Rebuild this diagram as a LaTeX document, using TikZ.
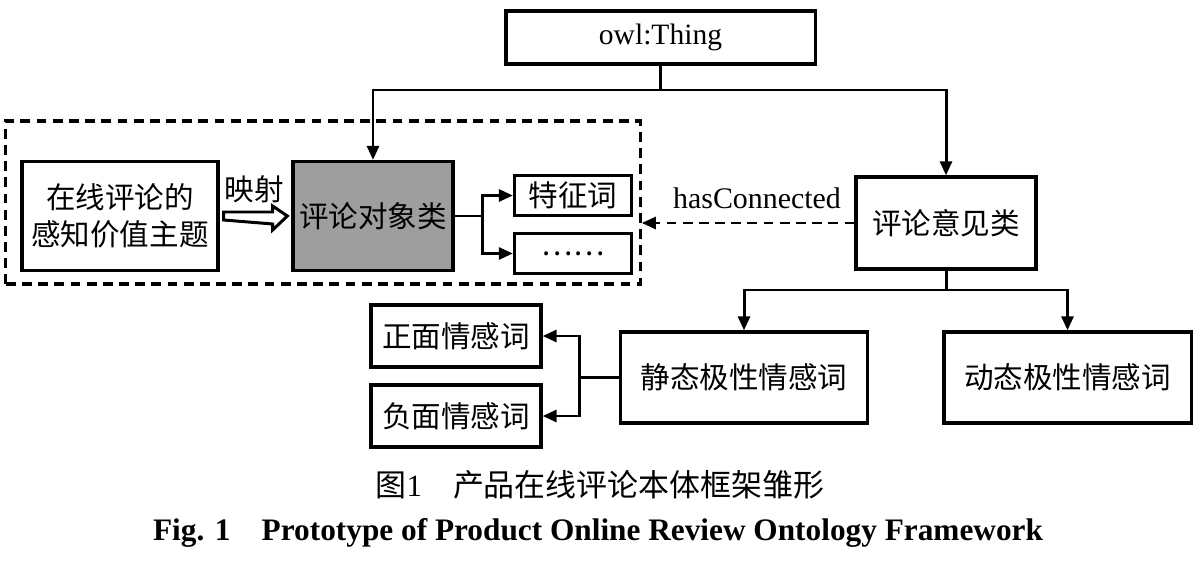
\documentclass[tikz,border=0pt]{standalone}
\usepackage{fontspec}
\setmainfont{Liberation Serif}
\newfontfamily\cjk{Noto Sans CJK SC}
\usetikzlibrary{arrows.meta,calc}
\definecolor{classgray}{RGB}{158,158,158}
\begin{document}
\begin{tikzpicture}[x=0.01cm,y=-0.01cm]
        \tikzstyle{cls}=[draw,line width=0.9pt,inner sep=0pt,align=center,font=\cjk\fontsize{8.4}{10.5}\selectfont]
        \tikzstyle{edge}=[draw,line width=0.85pt]
        \tikzstyle{tip}=[-{Triangle[length=4pt,width=3.4pt]}]
        \useasboundingbox (0,0) rectangle (1200,567);
       \begin{scope}
         \node [cls,minimum width=3.09cm,minimum height=0.53cm,font=\fontsize{8.4}{10}\selectfont] (thing) at (660.5,37.5) {owl:Thing};
         \node [draw,dashed,line width=0.9pt,dash pattern=on 2.8pt off 1.8pt,minimum width=6.34cm,minimum height=1.63cm,inner sep=0pt] (group) at (323,202.5) {};
         \node [cls,minimum width=1.96cm,minimum height=1.09cm] (topic) at (120,216) {在线评论的\\感知价值主题};
         \node [cls,fill=classgray,minimum width=1.6cm,minimum height=1.09cm] (objcls) at (373,216) {评论对象类};
         \node [cls,minimum width=1.17cm,minimum height=0.4cm] (feat) at (573,195.5) {特征词};
         \node [cls,minimum width=1.17cm,minimum height=0.4cm] (etc) at (573,253.5) {……};
         \node [cls,minimum width=1.8cm,minimum height=0.92cm] (opin) at (946,223) {评论意见类};
         \node [cls,minimum width=2.47cm,minimum height=0.91cm] (static) at (744,377.5) {静态极性情感词};
         \node [cls,minimum width=2.47cm,minimum height=0.91cm] (dynamic) at (1067.5,377.5) {动态极性情感词};
         \node [cls,minimum width=1.7cm,minimum height=0.62cm] (pos) at (456,336) {正面情感词};
         \node [cls,minimum width=1.7cm,minimum height=0.62cm] (neg) at (456,416) {负面情感词};
         \coordinate (split1) at (660.5,90);
         \coordinate (split2) at (946,290);
         \coordinate (fork1) at (482,0);
         \coordinate (fork2) at (579,0);
         \path[edge] (thing.south) -- (split1);
         \path[edge,tip] (split1) -| (objcls.north);
         \path[edge,tip] (split1) -| (opin.north);
         \path[edge] (opin.south) -- (split2);
         \path[edge,tip] (split2) -| (static.north);
         \path[edge,tip] (split2) -| (dynamic.north);
         \path[edge,tip] (objcls.east) -- (objcls.east -| fork1) |- (feat.west);
         \path[edge,tip] (objcls.east -| fork1) |- (etc.west);
         \path[edge,tip] (static.west) -- (static.west -| fork2) |- (pos.east);
         \path[edge,tip] (static.west -| fork2) |- (neg.east);
         \path[edge,tip,dashed,dash pattern=on 2.8pt off 1.8pt] (opin.west) -- (opin.west -| group.east);
         \node [font=\fontsize{8.5}{10}\selectfont] (rel) at (757,198) {hasConnected};
         \draw[line width=0.85pt,fill=white] ($(topic.east)+(4,-4)$) -- ++(49,0) -- ++(0,-6) -- ($(objcls.west)+(-4,0)$) -- ($(topic.east)+(53,14)$) -- ++(0,-6) -- ($(topic.east)+(4,4)$) -- cycle;
         \node [font=\cjk\fontsize{8.4}{10}\selectfont] (map) at (254,189) {映射};
        \end{scope}
         \node [font=\cjk\fontsize{8.8}{10}\selectfont] (cap1) at (600,485) {图{\rmfamily 1}\quad 产品在线评论本体框架雏形};
         \node [font=\bfseries\fontsize{8.9}{10}\selectfont] (cap2) at (598,533) {Fig. 1\quad Prototype of Product Online Review Ontology Framework};
      \end{tikzpicture}
\end{document}
